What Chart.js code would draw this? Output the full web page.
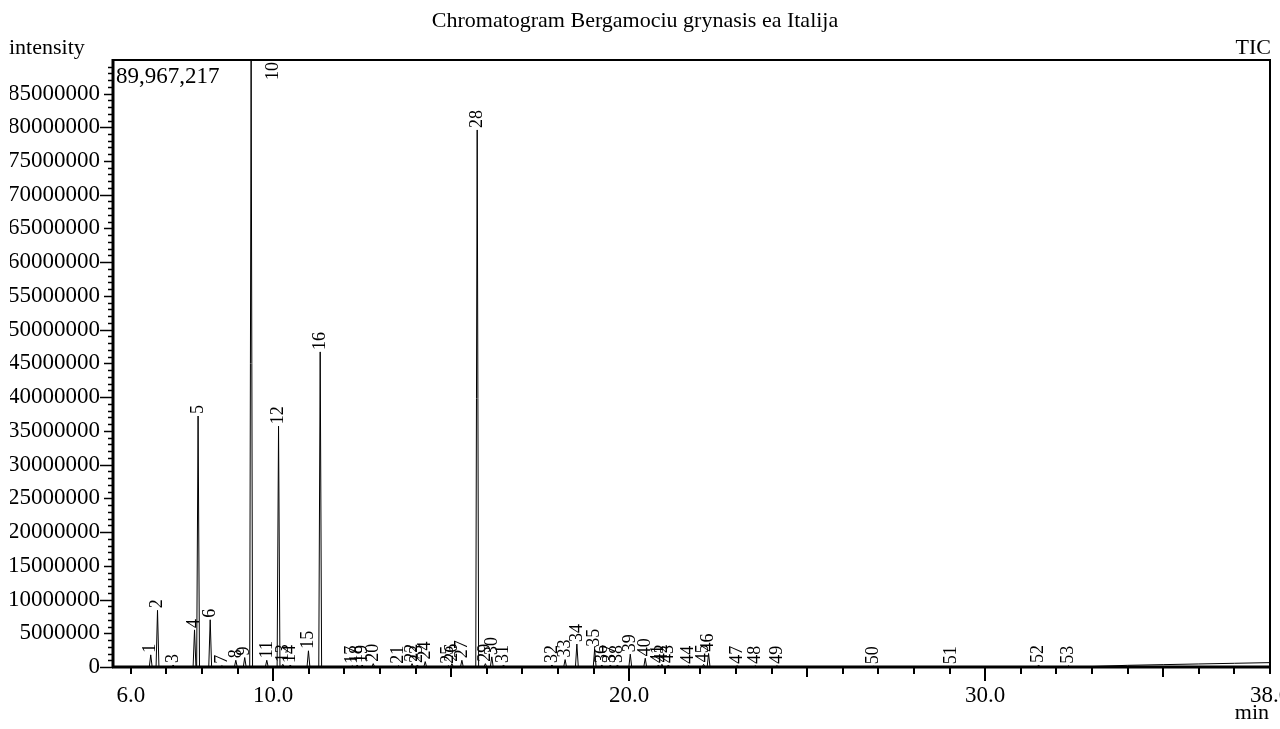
<!DOCTYPE html>
<html>
<head>
<meta charset="utf-8">
<title>Chromatogram</title>
<script src="https://cdn.jsdelivr.net/npm/chart.js@4.4.1/dist/chart.umd.min.js"></script>
<style>
  html, body { margin: 0; padding: 0; background: #fff; }
  canvas { display: block; }
</style>
</head>
<body>
<canvas id="chromChart" width="1280" height="729"></canvas>
<script>
/* global Chart */
'use strict';

/* Data */

const peakNo = [
  1, 2, 3, 4, 5, 6, 7, 8, 9, 10,
  11, 12, 13, 14, 15, 16, 17, 18, 19, 20,
  21, 22, 23, 24, 25, 26, 27, 28, 29, 30,
  31, 32, 33, 34, 35, 36, 37, 38, 39, 40,
  41, 42, 43, 44, 45, 46, 47, 48, 49, 50,
  51, 52, 53
];

// retention time, min
const peakTime = [
  6.56, 6.75, 7.19, 7.79, 7.89, 8.23, 8.56, 8.95, 9.20, 9.38,
  9.82, 10.15, 10.27, 10.48, 10.99, 11.32, 12.22, 12.36, 12.50, 12.81,
  13.52, 13.90, 14.05, 14.27, 14.92, 15.02, 15.30, 15.73, 15.96, 16.14,
  16.47, 17.83, 18.20, 18.53, 19.03, 19.23, 19.47, 19.67, 20.03, 20.45,
  20.82, 20.92, 21.10, 21.67, 22.09, 22.23, 23.03, 23.54, 24.15, 26.86,
  29.06, 31.50, 32.34
];

// peak height, intensity
const peakHeight = [
  1800000, 8400000, 300000, 5500000, 37200000, 7000000, 200000, 1000000, 1400000, 89967217,
  1000000, 35700000, 400000, 300000, 2400000, 46700000, 200000, 300000, 300000, 500000,
  200000, 500000, 300000, 800000, 200000, 500000, 1000000, 79600000, 500000, 1500000,
  300000, 300000, 1100000, 3400000, 2700000, 300000, 300000, 300000, 1900000, 1300000,
  300000, 400000, 300000, 200000, 400000, 2000000, 200000, 200000, 200000, 100000,
  100000, 300000, 200000
];

// baseline drift at the end of the run
const driftTime = [33.0, 34.0, 35.0, 36.0, 37.0, 38.0];
const driftValue = [70000, 250000, 350000, 450000, 550000, 650000];

const xTickValues = [6, 10, 20, 30, 38];
const xTickLabels = ['6.0', '10.0', '20.0', '30.0', '38.0'];
const yTickValues = [
  0, 5000000, 10000000, 15000000, 20000000, 25000000, 30000000, 35000000, 40000000,
  45000000, 50000000, 55000000, 60000000, 65000000, 70000000, 75000000, 80000000, 85000000
];
const yFullScale = 89967217;

const FONT = 'Liberation Serif, Times New Roman, serif';
const PEAK_HALF = 0.04; // half width of a peak foot, min


/* Trace built from the peak table */

const trace = [{x: 5.5, y: 0}];
peakTime.forEach(function(t, i) {
  trace.push({x: t - PEAK_HALF, y: 0});
  trace.push({x: t, y: peakHeight[i]});
  trace.push({x: t + PEAK_HALF, y: 0});
});
driftTime.forEach(function(t, i) {
  trace.push({x: t, y: driftValue[i]});
});


/* Axis ticks, frame, peak numbers, corner texts */

const chromDecor = {
  id: 'chromDecor',
  beforeDraw(chart) {
    // the y labels are cut at the left, like in the instrument print
    const ctx = chart.ctx;
    ctx.save();
    ctx.beginPath();
    ctx.rect(10, 0, chart.width, chart.height);
    ctx.clip();
  },
  afterDatasetsDraw(chart) {
    const {ctx, chartArea: a, scales: {x, y}} = chart;
    ctx.save();
    ctx.strokeStyle = '#000';
    ctx.fillStyle = '#000';

    function line(x1, y1, x2, y2) {
      ctx.beginPath();
      ctx.moveTo(x1, y1);
      ctx.lineTo(x2, y2);
      ctx.stroke();
    }

    // y ruler
    ctx.lineWidth = 1.5;
    for (let v = 0; v <= yFullScale; v += 1000000) {
      const py = Math.round(y.getPixelForValue(v)) + 0.5;
      let len = 5;
      if (v % 10000000 === 0) len = 13;
      else if (v % 5000000 === 0) len = 9;
      line(a.left - len, py, a.left, py);
    }

    // x ticks every minute
    ctx.lineWidth = 2;
    for (let m = 6; m <= 38; m++) {
      const px = Math.round(x.getPixelForValue(m));
      let len = 7;
      if (m % 10 === 0) len = 14;
      else if (m % 5 === 0) len = 10;
      line(px, a.bottom, px, a.bottom + len);
    }

    // frame
    ctx.lineWidth = 2;
    ctx.strokeRect(a.left, a.top, a.right - a.left, a.bottom - a.top);
    ctx.lineWidth = 3;
    line(a.left, a.top - 1, a.left, a.bottom + 1);
    line(a.left - 1, a.bottom, a.right + 1, a.bottom);

    // peak numbers, rotated
    ctx.font = '18px ' + FONT;
    ctx.textAlign = 'left';
    ctx.textBaseline = 'middle';
    peakNo.forEach(function(n, i) {
      const label = String(n);
      const w = ctx.measureText(label).width;
      let px = x.getPixelForValue(peakTime[i]);
      let py = y.getPixelForValue(Math.min(peakHeight[i], yFullScale)) - 2;
      if (py - w < a.top + 2) {
        py = a.top + 2 + w;
        px += 22;
      }
      ctx.save();
      ctx.translate(px, py);
      ctx.rotate(-Math.PI / 2);
      ctx.fillText(label, 0, 0);
      ctx.restore();
    });

    ctx.textBaseline = 'alphabetic';
    ctx.font = '23px ' + FONT;
    ctx.fillText('89,967,217', a.left + 3, a.top + 23);
    ctx.restore();
  },
  afterDraw(chart) {
    const ctx = chart.ctx;
    ctx.restore();
    ctx.save();
    ctx.fillStyle = '#000';
    ctx.font = '22px ' + FONT;
    ctx.textBaseline = 'alphabetic';
    ctx.textAlign = 'left';
    ctx.fillText('intensity', 9, 54);
    ctx.textAlign = 'right';
    ctx.fillText('TIC', 1271, 54);
    ctx.fillText('min', 1269, 719);
    ctx.restore();
  }
};


/* Chart */

Chart.defaults.font.family = FONT;
Chart.defaults.color = '#000';

const ctx = document.getElementById('chromChart').getContext('2d');

const chart = new Chart(ctx, {
  type: 'line',
  data: {
    datasets: [{
      label: 'TIC',
      data: trace,
      borderColor: '#000',
      borderWidth: 1,
      pointRadius: 0,
      tension: 0,
      fill: false,
    }]
  },
  options: {
    responsive: false,
    animation: false,
    events: [],
    layout: {
      autoPadding: false,
      padding: {left: 0, right: 10, top: 0, bottom: 0},
    },
    plugins: {
      legend: {display: false},
      tooltip: {enabled: false},
      title: {
        display: true,
        text: 'Chromatogram Bergamociu grynasis ea Italija',
        color: '#000',
        font: {size: 22, weight: 'normal', family: FONT, lineHeight: 1.2},
        padding: {top: 8, bottom: 25.6},
      },
    },
    scales: {
      x: {
        type: 'linear',
        min: 5.5,
        max: 38.0,
        grid: {display: false, drawTicks: false},
        border: {display: false},
        afterBuildTicks: function(scale) {
          scale.ticks = xTickValues.map(function(v) { return {value: v}; });
        },
        afterFit: function(scale) {
          scale.height = 62;
          scale.paddingLeft = 0;
          scale.paddingRight = 0;
        },
        ticks: {
          autoSkip: false,
          maxRotation: 0,
          padding: 15,
          font: {size: 23},
          callback: function(value, index) {
            return xTickLabels[index];
          },
        },
      },
      y: {
        type: 'linear',
        min: 0,
        max: yFullScale,
        grid: {display: false, drawTicks: false},
        border: {display: false},
        afterBuildTicks: function(scale) {
          scale.ticks = yTickValues.map(function(v) { return {value: v}; });
        },
        afterFit: function(scale) {
          scale.width = 113;
          scale.paddingTop = 0;
          scale.paddingBottom = 0;
        },
        ticks: {
          autoSkip: false,
          padding: 13,
          font: {size: 23},
          callback: function(value) {
            return String(value);
          },
        },
      },
    },
  },
  plugins: [chromDecor],
});
console.log(chart.chartArea);
</script>
</body>
</html>
